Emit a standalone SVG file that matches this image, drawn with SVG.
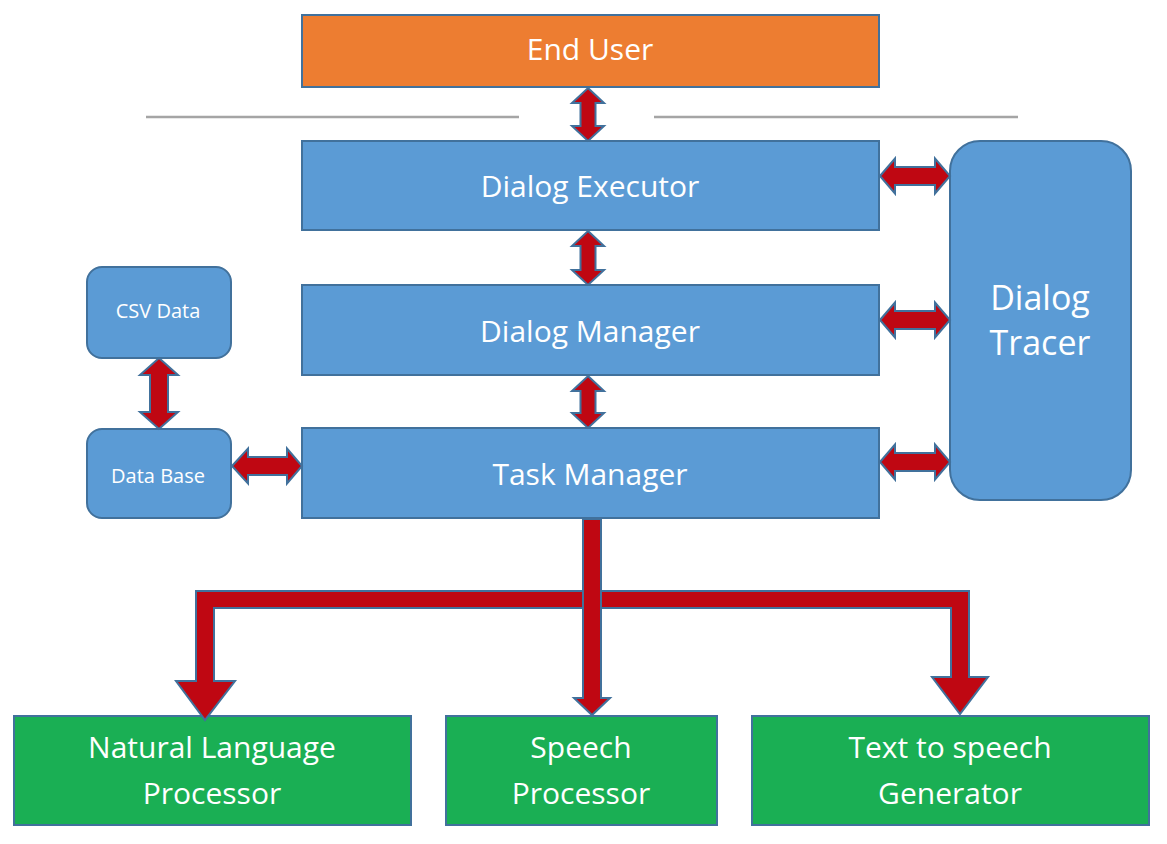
<svg xmlns="http://www.w3.org/2000/svg" width="1167" height="844" viewBox="0 0 1167 844">
<style>
.box{fill:#5B9BD5;stroke:#41719C;stroke-width:2}
.user{fill:#ED7D31;stroke:#41719C;stroke-width:2}
.green{fill:#1AAF54;stroke:#41719C;stroke-width:2}
.arr{fill:#BF0712;stroke:#41719C;stroke-width:2;stroke-linejoin:miter}
.sep{stroke:#A5A5A5;stroke-width:2.5}
text{font-family:"Open Sans","Liberation Sans",sans-serif;fill:#FFFFFF;text-anchor:middle;dominant-baseline:central}
.big{font-size:30px}
.tr{font-size:34px}
.sm{font-size:20px}
</style>
<rect width="1167" height="844" fill="#FFFFFF"/>
<g id="separators">
<line class="sep" x1="146" y1="117" x2="519" y2="117"/>
<line class="sep" x1="654" y1="117" x2="1018" y2="117"/>
</g>
<g id="end-user"><rect class="user" x="302" y="15" width="577" height="72"/><text class="big" x="590" y="48">End User</text></g>
<g id="dialog-executor"><rect class="box" x="302" y="141" width="577" height="89"/><text class="big" x="590" y="185">Dialog Executor</text></g>
<g id="dialog-manager"><rect class="box" x="302" y="285" width="577" height="90"/><text class="big" x="590" y="330">Dialog Manager</text></g>
<g id="task-manager"><rect class="box" x="302" y="428" width="577" height="90"/><text class="big" x="590" y="473">Task Manager</text></g>
<g id="dialog-tracer"><rect class="box" x="950" y="141" width="181" height="359" rx="30"/><text class="tr" x="1040" y="297">Dialog</text><text class="tr" x="1040" y="342">Tracer</text></g>
<g id="csv-data"><rect class="box" x="87" y="267" width="144" height="91" rx="15"/><text class="sm" x="158" y="310">CSV Data</text></g>
<g id="data-base"><rect class="box" x="87" y="429" width="144" height="89" rx="15"/><text class="sm" x="158" y="475">Data Base</text></g>
<g id="nlp"><rect class="green" x="14" y="716" width="397" height="109"/><text class="big" x="212" y="746">Natural Language</text><text class="big" x="212" y="792">Processor</text></g>
<g id="speech"><rect class="green" x="446" y="716" width="271" height="109"/><text class="big" x="581" y="746">Speech</text><text class="big" x="581" y="792">Processor</text></g>
<g id="tts"><rect class="green" x="752" y="716" width="397" height="109"/><text class="big" x="950" y="746">Text to speech</text><text class="big" x="950" y="792">Generator</text></g>
<g id="connectors">
<polygon class="arr" points="588,88 604,103 595.5,103 595.5,126 604,126 588,141 572,126 580.5,126 580.5,103 572,103"/>
<polygon class="arr" points="588,231 604,246 595.5,246 595.5,270 604,270 588,285 572,270 580.5,270 580.5,246 572,246"/>
<polygon class="arr" points="588,376 604,391 595.5,391 595.5,413 604,413 588,428 572,413 580.5,413 580.5,391 572,391"/>
<polygon class="arr" points="880,176 895,158.5 895,167 935,167 935,158.5 950,176 935,193.5 935,185 895,185 895,193.5"/>
<polygon class="arr" points="880,320 895,302.5 895,311 935,311 935,302.5 950,320 935,337.5 935,329 895,329 895,337.5"/>
<polygon class="arr" points="880,462 895,444.5 895,453 935,453 935,444.5 950,462 935,479.5 935,471 895,471 895,479.5"/>
<polygon class="arr" points="159,358 178,375 168,375 168,412 178,412 159,429 140,412 150,412 150,375 140,375"/>
<polygon class="arr" points="232,466 248,448.5 248,457 287,457 287,448.5 302,466 287,483.5 287,475 248,475 248,483.5"/>
<polygon class="arr" points="592,591 196,591 196,681 176,681 205,720 235,681 214,681 214,608 592,608"/>
<polygon class="arr" points="592,591 969,591 969,677 988,677 960,714 932,677 951,677 951,608 592,608"/>
<polygon class="arr" points="583,519 601,519 601,698 610,698 592,715 574,698 583,698"/>
</g>
</svg>
